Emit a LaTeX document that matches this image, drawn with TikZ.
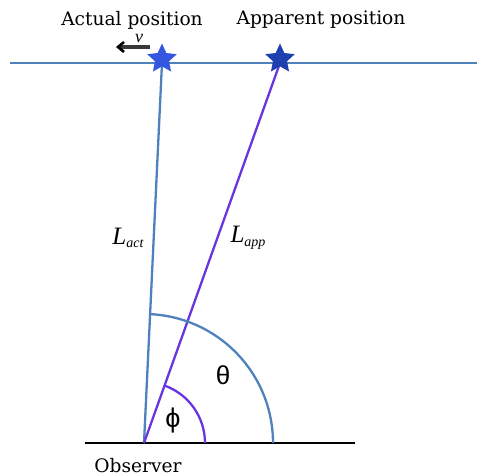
\documentclass[tikz,border=0pt]{standalone}
\usepackage{fontspec}
\setmainfont{DejaVu Serif}
\newfontfamily\symfont{Liberation Sans}
\newfontfamily\mathitfont{Liberation Serif}
\usetikzlibrary{shapes.geometric,arrows.meta}
\definecolor{lineblue}{HTML}{4F81BD}
\definecolor{purp}{HTML}{6A35E0}
\definecolor{staract}{HTML}{3556E0}
\definecolor{starapp}{HTML}{1E3FB0}
\definecolor{shaftgrey}{HTML}{383838}
\tikzset{
  bl/.style={draw=lineblue, line width=2.3pt},
  pl/.style={draw=purp, line width=2.3pt},
  lbl/.style={font=\fontsize{18.6}{18.6}\selectfont, inner sep=0pt},
  starshape/.style={star, star points=5, star point ratio=2.1, minimum size=31pt, inner sep=0pt},
  vshaft/.style={draw=shaftgrey, line width=4pt},
  vhead/.style={draw=black, line width=2.6pt, line join=miter},
}
\begin{document}
\begin{tikzpicture}[x=1pt,y=-1pt]
\useasboundingbox (0,0) rectangle (477,476);
% coordinates
\coordinate (O) at (144,443);
\coordinate (A) at (162,63);
\coordinate (P) at (280,63);
\coordinate (TL) at (10,63);
\coordinate (TR) at (477,63);
\coordinate (BL) at (85,443);
\coordinate (BR) at (355,443);
% lines
\draw[bl] (TL) -- (TR);
\draw[black, line width=2.4pt] (BL) -- (BR);
\draw[bl] (O) -- (A);
\draw[pl] (O) -- (P);
% arcs
\draw[bl] ([xshift=129pt]O) arc[start angle=0, end angle=-87.3, radius=129];
\draw[pl] ([xshift=61pt]O) arc[start angle=0, end angle=-70.3, radius=61];
% stars
\node[starshape, fill=staract] (sa) at ([yshift=4pt]A) {};
\node[starshape, fill=starapp] (sp) at ([yshift=4pt]P) {};
% labels
\node[lbl] (ta) at (132,20) {Actual position};
\node[lbl] (tp) at (321,20) {Apparent position};
\node[lbl] (obs) at (138,466) {Observer};
\node[lbl, font=\fontsize{25}{25}\selectfont\mathitfont\itshape] (lact) at (128,238) {L\raisebox{-0.3ex}{\fontsize{14}{14}\selectfont act}};
\node[lbl, font=\fontsize{25}{25}\selectfont\mathitfont\itshape] (lapp) at (248,238) {L\raisebox{-0.3ex}{\fontsize{14}{14}\selectfont app}};
\node[lbl, font=\fontsize{26}{26}\selectfont\symfont] (th) at (223,375) {θ};
\node[lbl, font=\fontsize{27}{27}\selectfont\symfont] (ph) at (173,421) {ϕ};
% velocity arrow
\node[lbl, font=\fontsize{18}{18}\selectfont\mathitfont\itshape] (v) at (139,38) {v};
\coordinate (vs) at (150,47);
\coordinate (ve) at (119,47);
\draw[vshaft] (vs) -- (ve);
\draw[vhead] (124,42) -- (118,47) -- (124,52);
\end{tikzpicture}
\end{document}
